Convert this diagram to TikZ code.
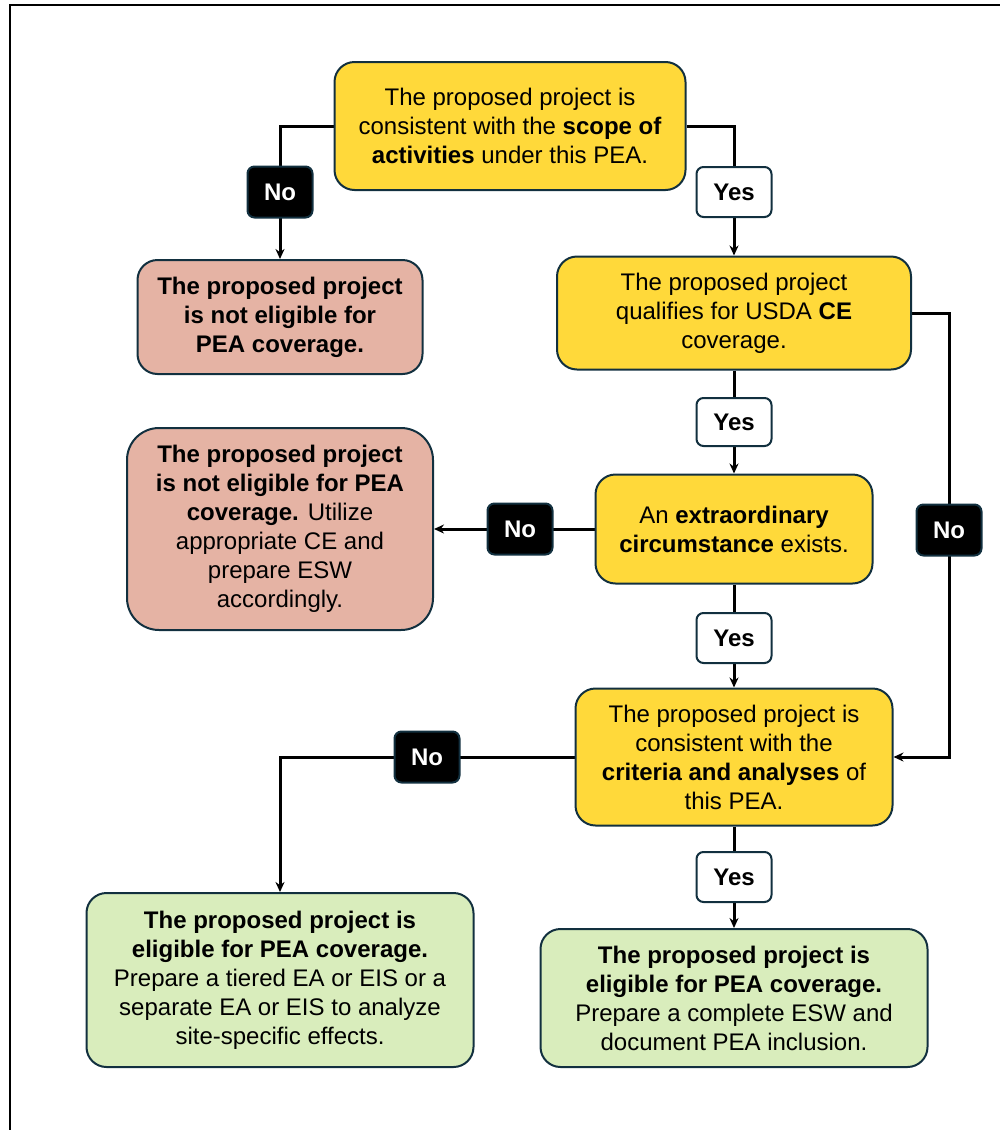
\documentclass[tikz,border=0pt]{standalone}
\usepackage{fontspec}
\setmainfont{Liberation Sans}
\usetikzlibrary{arrows.meta,backgrounds}
\definecolor{boxyellow}{HTML}{FFD93A}
\definecolor{boxpink}{HTML}{E5B3A4}
\definecolor{boxgreen}{HTML}{D9EDBC}
\definecolor{edgenavy}{HTML}{12303F}
\tikzset{
  every node/.style={font=\fontsize{24}{29}\selectfont, align=center, inner sep=0pt},
  card/.style={draw=edgenavy, line width=2pt, rounded corners=20pt},
  question/.style={card, fill=boxyellow},
  reject/.style={card, fill=boxpink},
  accept/.style={card, fill=boxgreen},
  yeslbl/.style={draw=edgenavy, line width=2pt, fill=white, rounded corners=7pt,
    minimum width=75pt, minimum height=50pt, font=\fontsize{24}{29}\selectfont\bfseries},
  nolbl/.style={draw=edgenavy, line width=2pt, fill=black, text=white, rounded corners=7pt,
    minimum width=65pt, minimum height=51pt, font=\fontsize{24}{29}\selectfont\bfseries},
  flow/.style={line width=3pt, ->}
}
\begin{document}
\begin{tikzpicture}[x=1pt, y=-1pt, >={Stealth[length=10pt,width=9pt]}]
  \useasboundingbox (0,0) rectangle (999,1130);
  % outer frame
  \draw[line width=2pt] (10,1140) -- (10,5) -- (1010,5);

  % ==================== questions ====================
  \node[question, minimum width=351pt, minimum height=128pt] (scope) at (510,126)
    {The proposed project is\\ consistent with the \textbf{scope of}\\ \textbf{activities} under this PEA.};
  \node[question, minimum width=354pt, minimum height=113pt] (usda) at (734,313)
    {The proposed project\\ qualifies for USDA \textbf{CE}\\ coverage.};
  \node[question, minimum width=277pt, minimum height=109pt] (extra) at (734,529)
    {An \textbf{extraordinary}\\ \textbf{circumstance} exists.};
  \node[question, minimum width=317pt, minimum height=137pt] (criteria) at (734,757)
    {The proposed project is\\ consistent with the\\ \textbf{criteria and analyses} of\\ this PEA.};

  % ==================== outcomes ====================
  \node[reject, minimum width=285pt, minimum height=114pt] (noscope) at (280,317)
    {\textbf{The proposed project}\\ \textbf{is not eligible for}\\ \textbf{PEA coverage.}};
  \node[reject, rounded corners=32pt, minimum width=306pt, minimum height=202pt] (noextra) at (280,529)
    {\textbf{The proposed project}\\ \textbf{is not eligible for PEA}\\ \textbf{coverage.} Utilize\\ appropriate CE and\\ prepare ESW\\ accordingly.};
  \node[accept, minimum width=387pt, minimum height=174pt] (tiered) at (280,980)
    {\textbf{The proposed project is}\\ \textbf{eligible for PEA coverage.}\\ Prepare a tiered EA or EIS or a\\ separate EA or EIS to analyze\\ site-specific effects.};
  \node[accept, minimum width=387pt, minimum height=138pt] (covered) at (734,998)
    {\textbf{The proposed project is}\\ \textbf{eligible for PEA coverage.}\\ Prepare a complete ESW and\\ document PEA inclusion.};

  % ==================== answers ====================
  \node[nolbl] (no1) at (280,192) {No};
  \node[yeslbl] (yes1) at (734,192) {Yes};
  \node[yeslbl, minimum height=48pt] (yes2) at (734,422) {Yes};
  \node[nolbl] (no2) at (520,529) {No};
  \node[nolbl] (no3) at (949,530) {No};
  \node[yeslbl] (yes3) at (734,638) {Yes};
  \node[nolbl] (no4) at (427,757) {No};
  \node[yeslbl] (yes4) at (734,877) {Yes};

  % connectors behind the answer tags
  \begin{scope}[on background layer]
    \draw[flow] (scope.west) -| (noscope.north);
    \draw[flow] (scope.east) -| (usda.north);
    \draw[flow] (usda.south) -- (extra.north);
    \draw[flow] (extra.west) -- (noextra.east);
    \draw[flow] (extra.south) -- (criteria.north);
    \draw[flow] (usda.east) -| (no3.center) |- (criteria.east);
    \draw[flow] (criteria.west) -| (tiered.north);
    \draw[flow] (criteria.south) -- (covered.north);
  \end{scope}
\end{tikzpicture}
\end{document}
